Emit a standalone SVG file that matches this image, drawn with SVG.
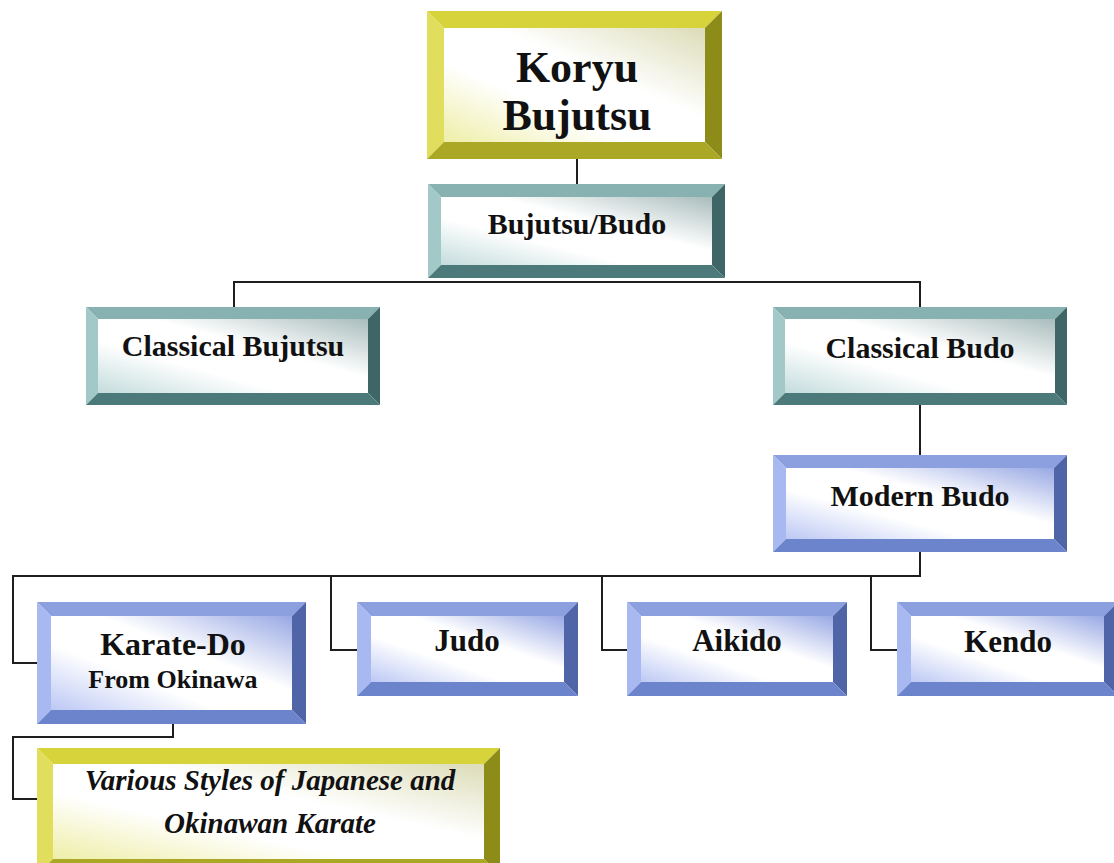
<svg xmlns="http://www.w3.org/2000/svg" width="1114" height="863" viewBox="0 0 1114 863">
<defs>
<linearGradient id="gY" x1="1" y1="0" x2="0" y2="1"><stop offset="0" stop-color="#dcdcb8"/><stop offset="0.4" stop-color="#ffffff"/><stop offset="0.65" stop-color="#ffffff"/><stop offset="1" stop-color="#eeeea8"/></linearGradient>
<linearGradient id="gT" x1="1" y1="0" x2="0" y2="1"><stop offset="0" stop-color="#a9bcbc"/><stop offset="0.4" stop-color="#ffffff"/><stop offset="0.65" stop-color="#ffffff"/><stop offset="1" stop-color="#c4dcdc"/></linearGradient>
<linearGradient id="gB" x1="1" y1="0" x2="0" y2="1"><stop offset="0" stop-color="#98a8e4"/><stop offset="0.4" stop-color="#ffffff"/><stop offset="0.65" stop-color="#ffffff"/><stop offset="1" stop-color="#bcc8f4"/></linearGradient>
</defs>
<style>
.y .t{fill:#d6d43a}.y .l{fill:#e0de5c}.y .r{fill:#8e8c18}.y .b{fill:#aaa824}.y .f{fill:url(#gY)}
.c .t{fill:#88b2b2}.c .l{fill:#a2c8c8}.c .r{fill:#3e6666}.c .b{fill:#4c7a7a}.c .f{fill:url(#gT)}
.u .t{fill:#8ca0e0}.u .l{fill:#a8b8f0}.u .r{fill:#5064a8}.u .b{fill:#6c84cc}.u .f{fill:url(#gB)}
text{font-family:"Liberation Serif","Times New Roman",serif;font-weight:bold;fill:#111;text-anchor:middle}
.it{font-style:italic}
#conn{fill:none;stroke:#1e1e1e;stroke-width:2}
</style>
<rect width="1114" height="863" fill="#ffffff"/>
<g id="conn">
<path d="M577 159V184"/>
<path d="M234 307V282H920V307"/>
<path d="M920 405V455"/>
<path d="M920 552V576H13V663H37"/>
<path d="M331 576V650H357"/>
<path d="M602 576V650H627"/>
<path d="M871 576V650H897"/>
<path d="M173 724V737H13V799H37"/>
</g>
<g id="n-koryu" class="y">
<polygon class="t" points="427,11 722,11 705,28 444,28"/>
<polygon class="l" points="427,11 444,28 444,142 427,159"/>
<polygon class="r" points="722,11 722,159 705,142 705,28"/>
<polygon class="b" points="427,159 444,142 705,142 722,159"/>
<rect class="f" x="444" y="28" width="261" height="114"/>
<text x="577" y="82" font-size="44">Koryu</text>
<text x="577" y="130" font-size="44">Bujutsu</text>
</g>
<g id="n-bujutsubudo" class="c">
<polygon class="t" points="428,184 725,184 712,197 441,197"/>
<polygon class="l" points="428,184 441,197 441,265 428,278"/>
<polygon class="r" points="725,184 725,278 712,265 712,197"/>
<polygon class="b" points="428,278 441,265 712,265 725,278"/>
<rect class="f" x="441" y="197" width="271" height="68"/>
<text x="577" y="234" font-size="30">Bujutsu/Budo</text>
</g>
<g id="n-classicalbujutsu" class="c">
<polygon class="t" points="86,307 380,307 368,319 98,319"/>
<polygon class="l" points="86,307 98,319 98,393 86,405"/>
<polygon class="r" points="380,307 380,405 368,393 368,319"/>
<polygon class="b" points="86,405 98,393 368,393 380,405"/>
<rect class="f" x="98" y="319" width="270" height="74"/>
<text x="233" y="356" font-size="30">Classical Bujutsu</text>
</g>
<g id="n-classicalbudo" class="c">
<polygon class="t" points="773,307 1067,307 1055,319 785,319"/>
<polygon class="l" points="773,307 785,319 785,393 773,405"/>
<polygon class="r" points="1067,307 1067,405 1055,393 1055,319"/>
<polygon class="b" points="773,405 785,393 1055,393 1067,405"/>
<rect class="f" x="785" y="319" width="270" height="74"/>
<text x="920" y="358" font-size="30">Classical Budo</text>
</g>
<g id="n-modernbudo" class="u">
<polygon class="t" points="773,455 1067,455 1054,468 786,468"/>
<polygon class="l" points="773,455 786,468 786,539 773,552"/>
<polygon class="r" points="1067,455 1067,552 1054,539 1054,468"/>
<polygon class="b" points="773,552 786,539 1054,539 1067,552"/>
<rect class="f" x="786" y="468" width="268" height="71"/>
<text x="920" y="506" font-size="30">Modern Budo</text>
</g>
<g id="n-karatedo" class="u">
<polygon class="t" points="37,602 306,602 292,616 51,616"/>
<polygon class="l" points="37,602 51,616 51,710 37,724"/>
<polygon class="r" points="306,602 306,724 292,710 292,616"/>
<polygon class="b" points="37,724 51,710 292,710 306,724"/>
<rect class="f" x="51" y="616" width="241" height="94"/>
<text x="173" y="655" font-size="32">Karate-Do</text>
<text x="173" y="688" font-size="26">From Okinawa</text>
</g>
<g id="n-judo" class="u">
<polygon class="t" points="357,602 578,602 564,616 371,616"/>
<polygon class="l" points="357,602 371,616 371,682 357,696"/>
<polygon class="r" points="578,602 578,696 564,682 564,616"/>
<polygon class="b" points="357,696 371,682 564,682 578,696"/>
<rect class="f" x="371" y="616" width="193" height="66"/>
<text x="467" y="651" font-size="31">Judo</text>
</g>
<g id="n-aikido" class="u">
<polygon class="t" points="627,602 847,602 833,616 641,616"/>
<polygon class="l" points="627,602 641,616 641,682 627,696"/>
<polygon class="r" points="847,602 847,696 833,682 833,616"/>
<polygon class="b" points="627,696 641,682 833,682 847,696"/>
<rect class="f" x="641" y="616" width="192" height="66"/>
<text x="737" y="651" font-size="31">Aikido</text>
</g>
<g id="n-kendo" class="u">
<polygon class="t" points="897,602 1118,602 1104,616 911,616"/>
<polygon class="l" points="897,602 911,616 911,682 897,696"/>
<polygon class="r" points="1118,602 1118,696 1104,682 1104,616"/>
<polygon class="b" points="897,696 911,682 1104,682 1118,696"/>
<rect class="f" x="911" y="616" width="193" height="66"/>
<text x="1008" y="652" font-size="31">Kendo</text>
</g>
<g id="n-various" class="y">
<polygon class="t" points="37,748 500,748 484,764 53,764"/>
<polygon class="l" points="37,748 53,764 53,859 37,875"/>
<polygon class="r" points="500,748 500,875 484,859 484,764"/>
<polygon class="b" points="37,875 53,859 484,859 500,875"/>
<rect class="f" x="53" y="764" width="431" height="95"/>
<text class="it" x="270" y="790" font-size="29">Various Styles of Japanese and</text>
<text class="it" x="270" y="833" font-size="29">Okinawan Karate</text>
</g>
</svg>
